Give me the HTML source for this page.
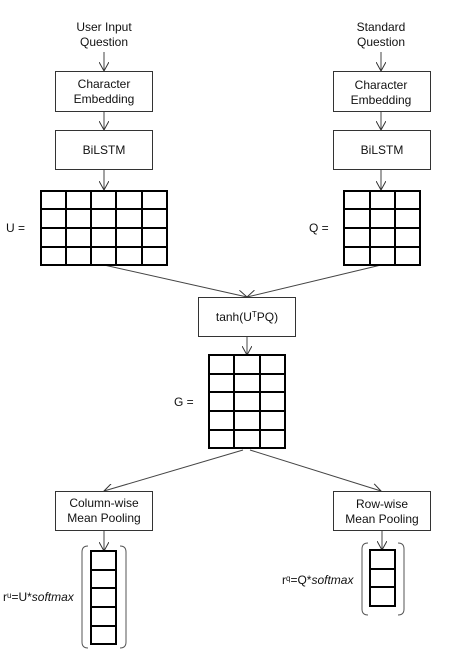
<!DOCTYPE html>
<html><head><meta charset="utf-8"><style>
html,body{margin:0;padding:0;background:#fff}
svg{display:block}
text{font-family:"Liberation Sans",sans-serif;font-size:12px;fill:#111}
</style></head><body>
<svg width="450" height="659" viewBox="0 0 450 659" xmlns="http://www.w3.org/2000/svg">
<defs>
<marker id="a" viewBox="0 0 10 10" refX="9" refY="5" markerWidth="10" markerHeight="10" orient="auto" markerUnits="userSpaceOnUse">
<path d="M0,0 L9,5 L0,10" fill="none" stroke="#333" stroke-width="1"/>
</marker>
</defs>
<g text-anchor="middle">
<text x="104" y="31">User Input</text>
<text x="104" y="46">Question</text>
<text x="381" y="31">Standard</text>
<text x="381" y="46">Question</text>
</g>
<g stroke="#444" stroke-width="1" fill="none" marker-end="url(#a)">
<line x1="104" y1="52" x2="104" y2="71"/>
<line x1="381" y1="52" x2="381" y2="71"/>
<line x1="104" y1="111" x2="104" y2="130"/>
<line x1="381" y1="111" x2="381" y2="130"/>
<line x1="104" y1="169" x2="104" y2="190"/>
<line x1="381" y1="169" x2="381" y2="190"/>
<line x1="104" y1="265" x2="247" y2="297"/>
<line x1="381" y1="265" x2="247" y2="297"/>
<line x1="247" y1="336" x2="247" y2="355"/>
<line x1="243" y1="450" x2="104" y2="491"/>
<line x1="250" y1="450" x2="381" y2="491"/>
<line x1="104" y1="530" x2="104" y2="551"/>
<line x1="382" y1="530" x2="382" y2="550"/>
</g>
<g fill="#fff" stroke="#333" stroke-width="1">
<rect x="55.5" y="71.5" width="97" height="40"/>
<rect x="333.5" y="71.5" width="97" height="40"/>
<rect x="55.5" y="130.5" width="97" height="39"/>
<rect x="333.5" y="130.5" width="97" height="39"/>
<rect x="198.5" y="297.5" width="97" height="39"/>
<rect x="55.5" y="491.5" width="97" height="39"/>
<rect x="333.5" y="491.5" width="97" height="39"/>
</g>
<g text-anchor="middle">
<text x="104" y="88">Character</text>
<text x="104" y="103">Embedding</text>
<text x="381" y="89">Character</text>
<text x="381" y="104">Embedding</text>
<text x="104" y="154">BiLSTM</text>
<text x="382" y="154">BiLSTM</text>
<text x="247" y="321">tanh(U<tspan font-size="8" dy="-4">T</tspan><tspan dy="4">PQ)</tspan></text>
<text x="104" y="507">Column-wise</text>
<text x="104" y="522">Mean Pooling</text>
<text x="382" y="508">Row-wise</text>
<text x="382" y="523">Mean Pooling</text>
</g>
<g stroke="#000" stroke-width="2" fill="none">
<rect x="41" y="191" width="126" height="74"/>
<line x1="66" y1="191" x2="66" y2="265"/><line x1="91" y1="191" x2="91" y2="265"/><line x1="116" y1="191" x2="116" y2="265"/><line x1="142" y1="191" x2="142" y2="265"/>
<line x1="41" y1="209" x2="167" y2="209"/><line x1="41" y1="228" x2="167" y2="228"/><line x1="41" y1="247" x2="167" y2="247"/>
<rect x="344" y="191" width="76" height="74"/>
<line x1="370" y1="191" x2="370" y2="265"/><line x1="395" y1="191" x2="395" y2="265"/>
<line x1="344" y1="209" x2="420" y2="209"/><line x1="344" y1="228" x2="420" y2="228"/><line x1="344" y1="247" x2="420" y2="247"/>
<rect x="209" y="355" width="76" height="93"/>
<line x1="234" y1="355" x2="234" y2="448"/><line x1="260" y1="355" x2="260" y2="448"/>
<line x1="209" y1="374" x2="285" y2="374"/><line x1="209" y1="392" x2="285" y2="392"/><line x1="209" y1="411" x2="285" y2="411"/><line x1="209" y1="430" x2="285" y2="430"/>
<rect x="91" y="551" width="25" height="93"/>
<line x1="91" y1="570" x2="116" y2="570"/><line x1="91" y1="588" x2="116" y2="588"/><line x1="91" y1="607" x2="116" y2="607"/><line x1="91" y1="626" x2="116" y2="626"/>
<rect x="370" y="550" width="25" height="56"/>
<line x1="370" y1="569" x2="395" y2="569"/><line x1="370" y1="587" x2="395" y2="587"/>
</g>
<g stroke="#555" stroke-width="1" fill="none">
<path d="M88,546 Q82,546 82,552 L82,642 Q82,648 88,648"/>
<path d="M120,546 Q126,546 126,552 L126,642 Q126,648 120,648"/>
<path d="M368,543 Q362,543 362,549 L362,609 Q362,615 368,615"/>
<path d="M398,543 Q404,543 404,549 L404,609 Q404,615 398,615"/>
</g>
<text x="6" y="232">U =</text>
<text x="309" y="232">Q =</text>
<text x="174" y="406">G =</text>
<text x="3" y="601">r<tspan font-size="8" dy="-3">u</tspan><tspan dy="3">=U*</tspan><tspan font-style="italic">softmax</tspan></text>
<text x="282" y="584">r<tspan font-size="8" dy="-3">q</tspan><tspan dy="3">=Q*</tspan><tspan font-style="italic">softmax</tspan></text>
</svg>
</body></html>
